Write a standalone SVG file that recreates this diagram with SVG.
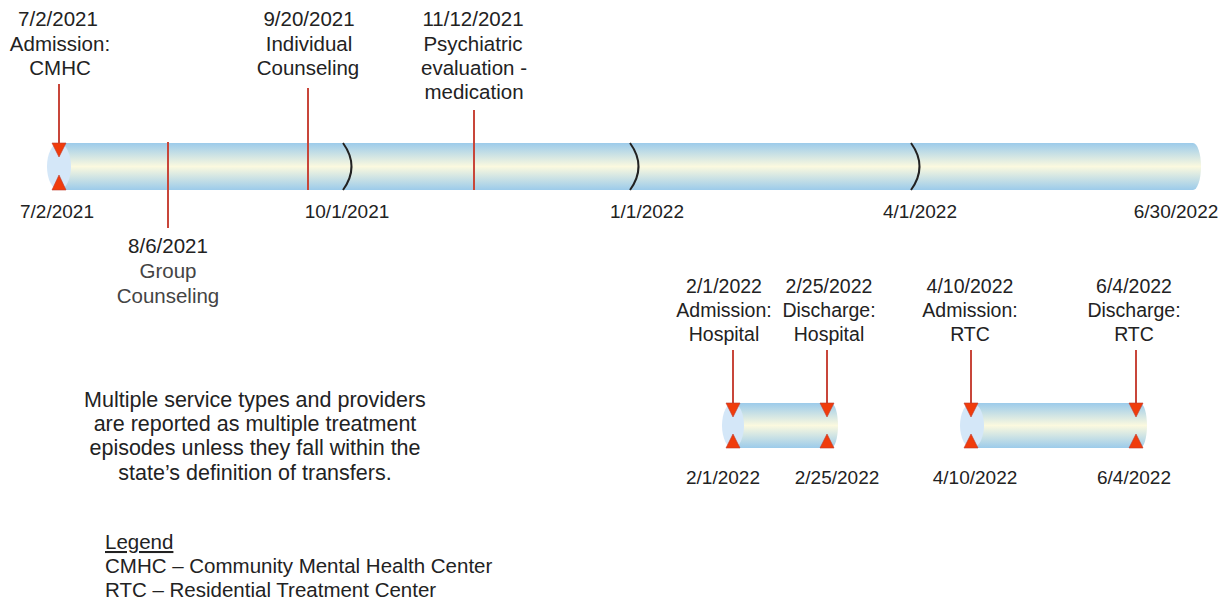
<svg xmlns="http://www.w3.org/2000/svg" width="1231" height="603" viewBox="0 0 1231 603">
<style>
text{font-family:"Liberation Sans",Arial,sans-serif;font-size:19px;fill:#222;text-anchor:middle}
.ev{font-size:20.5px}
.sm{font-size:19.5px}
.p{font-size:21.5px}
.l{text-anchor:start;font-size:20.5px}
.g{fill:#444}
.red{stroke:#c8463a;stroke-width:2;fill:none}
.brk{stroke:#222;stroke-width:2;fill:none}
.cap{fill:#d4e7f8}
.ah{fill:#f03c0c;stroke:#c0392b;stroke-width:0.6}
</style>
<defs>
<linearGradient id="tube" x1="0" y1="0" x2="0" y2="1">
<stop offset="0" stop-color="#9ccbea"/>
<stop offset="0.5" stop-color="#fbf9df"/>
<stop offset="1" stop-color="#9ccbea"/>
</linearGradient>
</defs>
<rect width="1231" height="603" fill="#fff"/>

<g id="main-tube">
<rect x="59" y="143" width="1134" height="47" fill="url(#tube)"/>
<ellipse cx="1193" cy="166.5" rx="8" ry="23.5" fill="url(#tube)"/>
<ellipse class="cap" cx="59" cy="166.5" rx="12" ry="23.5"/>
<path class="brk" d="M343,143 Q360,166.5 343,190"/>
<path class="brk" d="M630,143 Q647,166.5 630,190"/>
<path class="brk" d="M911,143 Q928,166.5 911,190"/>
</g>

<g id="tube-hospital">
<rect x="733" y="403" width="98" height="45" fill="url(#tube)"/>
<ellipse cx="831" cy="425.5" rx="7" ry="22.5" fill="url(#tube)"/>
<ellipse class="cap" cx="733" cy="425.5" rx="11" ry="22.5"/>
</g>

<g id="tube-rtc">
<rect x="972" y="403" width="168" height="45" fill="url(#tube)"/>
<ellipse cx="1140" cy="425.5" rx="7" ry="22.5" fill="url(#tube)"/>
<ellipse class="cap" cx="972" cy="425.5" rx="12" ry="22.5"/>
</g>

<g id="connectors">
<line class="red" x1="59" y1="84" x2="59" y2="145"/>
<polygon class="ah" points="52,143 66,143 59,157"/>
<polygon class="ah" points="52,190 66,190 59,175"/>
<line class="red" x1="168" y1="142" x2="168" y2="228"/>
<line class="red" x1="308" y1="88" x2="308" y2="190"/>
<line class="red" x1="474" y1="110" x2="474" y2="190"/>

<line class="red" x1="733" y1="350" x2="733" y2="405"/>
<polygon class="ah" points="726,403 740,403 733,417"/>
<polygon class="ah" points="726,448 740,448 733,434"/>
<line class="red" x1="827" y1="350" x2="827" y2="405"/>
<polygon class="ah" points="820,403 834,403 827,417"/>
<polygon class="ah" points="820,448 834,448 827,434"/>

<line class="red" x1="971" y1="350" x2="971" y2="405"/>
<polygon class="ah" points="964,403 978,403 971,417"/>
<polygon class="ah" points="964,448 978,448 971,434"/>
<line class="red" x1="1136" y1="350" x2="1136" y2="405"/>
<polygon class="ah" points="1129,403 1143,403 1136,417"/>
<polygon class="ah" points="1129,448 1143,448 1136,434"/>
</g>

<g id="label-cmhc-admission" class="ev">
<text class="ev" x="58" y="26">7/2/2021</text>
<text class="ev" x="60" y="51">Admission:</text>
<text class="ev" x="60" y="75">CMHC</text>
</g>
<g id="label-individual">
<text class="ev" x="309" y="26">9/20/2021</text>
<text class="ev" x="309" y="51">Individual</text>
<text class="ev" x="308" y="75">Counseling</text>
</g>
<g id="label-psych">
<text class="ev" x="473" y="26">11/12/2021</text>
<text class="ev" x="473" y="51">Psychiatric</text>
<text class="ev" x="474" y="75">evaluation -</text>
<text class="ev" x="474" y="99">medication</text>
</g>
<g id="label-group">
<text class="ev" x="168" y="253">8/6/2021</text>
<text class="ev g" x="168" y="278">Group</text>
<text class="ev g" x="168" y="303">Counseling</text>
</g>
<g id="axis-dates">
<text x="57" y="218">7/2/2021</text>
<text x="347" y="218">10/1/2021</text>
<text x="647" y="218">1/1/2022</text>
<text x="920" y="218">4/1/2022</text>
<text x="1176" y="218">6/30/2022</text>
</g>
<g id="label-hospital">
<text class="sm" x="724" y="293">2/1/2022</text>
<text class="sm" x="724" y="317">Admission:</text>
<text class="sm" x="724" y="341">Hospital</text>
<text class="sm" x="829" y="293">2/25/2022</text>
<text class="sm" x="829" y="317">Discharge:</text>
<text class="sm" x="829" y="341">Hospital</text>
<text x="723" y="484">2/1/2022</text>
<text x="837" y="484">2/25/2022</text>
</g>
<g id="label-rtc">
<text class="sm" x="970" y="293">4/10/2022</text>
<text class="sm" x="970" y="317">Admission:</text>
<text class="sm" x="970" y="341">RTC</text>
<text class="sm" x="1134" y="293">6/4/2022</text>
<text class="sm" x="1134" y="317">Discharge:</text>
<text class="sm" x="1134" y="341">RTC</text>
<text x="975" y="484">4/10/2022</text>
<text x="1134" y="484">6/4/2022</text>
</g>
<g id="note">
<text class="p" x="255" y="407">Multiple service types and providers</text>
<text class="p" x="255" y="431">are reported as multiple treatment</text>
<text class="p" x="255" y="455">episodes unless they fall within the</text>
<text class="p" x="255" y="480">state’s definition of transfers.</text>
</g>
<g id="legend">
<text class="l" x="105" y="549" text-decoration="underline">Legend</text>
<text class="l" x="105" y="573">CMHC – Community Mental Health Center</text>
<text class="l" x="105" y="597">RTC – Residential Treatment Center</text>
</g>
</svg>
